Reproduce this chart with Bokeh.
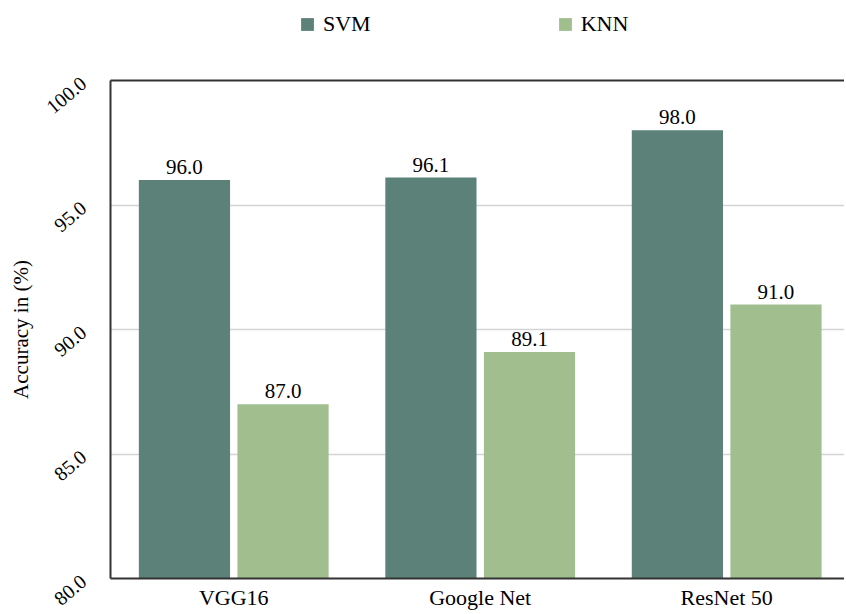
import math
from bokeh.plotting import figure
from bokeh.layouts import column
from bokeh.models import (ColumnDataSource, Range1d, FixedTicker, LinearAxis,
                          Legend, LegendItem, LabelSet)
from bokeh.embed import file_html
from bokeh.resources import INLINE
from bokeh.core.properties import value

models = ["VGG16", "Google Net", "ResNet 50"]
svm = [96.0, 96.1, 98.0]
knn = [87.0, 89.1, 91.0]
series_names = ["SVM", "KNN"]
y_ticks = [80, 85, 90, 95, 100]

SVM_COLOR = "#5b8178"
KNN_COLOR = "#a0be8e"
FONT = "Liberation Serif"
W = 844

centers = [i + 0.5 for i in range(len(models))]
src_svm = ColumnDataSource(dict(x=[c - 0.2 for c in centers], top=svm,
                                label=[f"{v:.1f}" for v in svm]))
src_knn = ColumnDataSource(dict(x=[c + 0.2 for c in centers], top=knn,
                                label=[f"{v:.1f}" for v in knn]))

# ---- legend strip (swatch glyphs sit outside the visible range) ----
lf = figure(width=W, height=50, x_range=Range1d(0, 1), y_range=Range1d(0, 1),
            output_backend="svg", toolbar_location=None,
            min_border_left=0, min_border_right=0, min_border_top=0, min_border_bottom=0)
lf.axis.visible = False
lf.grid.visible = False
lf.outline_line_color = None
d1 = lf.vbar(x=[-5], top=[-5], bottom=-6, width=0.1, fill_color=SVM_COLOR, line_color=None)
d2 = lf.vbar(x=[-5], top=[-5], bottom=-6, width=0.1, fill_color=KNN_COLOR, line_color=None)
legend = Legend(items=[LegendItem(label=series_names[0], renderers=[d1]),
                       LegendItem(label=series_names[1], renderers=[d2])],
                orientation="horizontal", location=(189, 13),
                glyph_width=16, glyph_height=16, label_standoff=8, spacing=186,
                padding=0, margin=0, border_line_color=None, background_fill_alpha=0,
                label_text_font=FONT, label_text_font_size="22px", label_text_color="black")
lf.add_layout(legend, "center")

# ---- main chart ----
p = figure(width=W, height=562, x_range=Range1d(0, 2.978), y_range=Range1d(80, 100),
           output_backend="svg", toolbar_location=None,
           min_border_left=110, min_border_right=0, min_border_top=30, min_border_bottom=33)
p.outline_line_color = None
p.background_fill_color = "white"

r1 = p.vbar(x="x", top="top", bottom=80, width=0.37, source=src_svm,
            fill_color=SVM_COLOR, line_color=None)
r2 = p.vbar(x="x", top="top", bottom=80, width=0.37, source=src_knn,
            fill_color=KNN_COLOR, line_color=None)

for src in (src_svm, src_knn):
    p.add_layout(LabelSet(x="x", y="top", text="label", source=src, y_offset=6,
                          text_align="center", text_baseline="bottom",
                          text_font=value(FONT), text_font_size="21px", text_color="black"))

# x axis
xa = p.xaxis[0]
xa.ticker = FixedTicker(ticks=centers)
xa.major_label_overrides = {c: m for c, m in zip(centers, models)}
xa.major_label_text_font = FONT
xa.major_label_text_font_size = "22px"
xa.major_label_text_color = "black"
xa.major_tick_line_color = None
xa.minor_tick_line_color = None
xa.major_tick_out = 0
xa.major_tick_in = 0
xa.major_label_standoff = 6
xa.axis_line_color = "#333333"
xa.axis_line_width = 2

# y axis
ya = p.yaxis[0]
ya.ticker = FixedTicker(ticks=y_ticks)
ya.major_label_overrides = {t: f"{t:.1f}" for t in y_ticks}
ya.major_label_orientation = 0.7
ya.major_label_text_font = FONT
ya.major_label_text_font_size = "20px"
ya.major_label_text_color = "black"
ya.major_tick_line_color = None
ya.minor_tick_line_color = None
ya.major_tick_out = 0
ya.major_tick_in = 0
ya.axis_line_color = "#333333"
ya.axis_line_width = 2
ya.axis_label = "Accuracy in (%)"
ya.axis_label_text_font = FONT
ya.axis_label_text_font_size = "21px"
ya.axis_label_text_font_style = "normal"
ya.axis_label_text_color = "black"
ya.major_label_standoff = 27
ya.axis_label_standoff = 4

# top border line
top = LinearAxis(ticker=FixedTicker(ticks=[]), major_label_text_font_size="0px",
                 major_tick_line_color=None, minor_tick_line_color=None,
                 major_tick_out=0, major_tick_in=0,
                 axis_line_color="#333333", axis_line_width=2)
p.add_layout(top, "above")

p.xgrid.grid_line_color = None
p.ygrid.ticker = FixedTicker(ticks=y_ticks)
p.ygrid.grid_line_color = "#d4d4d4"
p.ygrid.grid_line_width = 1.5

layout = column(lf, p, spacing=0)
open("out.html", "w").write(file_html(layout, INLINE))
